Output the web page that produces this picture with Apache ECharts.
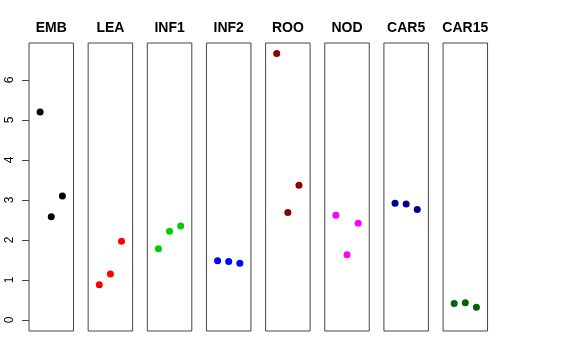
<!DOCTYPE html>
<html><head><meta charset="utf-8">
<script src="https://cdn.jsdelivr.net/npm/echarts@6/dist/echarts.min.js"></script>
<style>html,body{margin:0;padding:0;background:#fff}#c{width:576px;height:360px}</style>
</head><body><div id="c"></div>
<script>
const categories = ["EMB","LEA","INF1","INF2","ROO","NOD","CAR5","CAR15"];
const colors = ["#000000","#FF0000","#00CD00","#0000FF","#8B0000","#FF00FF","#00008B","#006400"];
const xPositions = [1, 2, 3];
const EMB = [5.2, 2.58, 3.1];
const LEA = [0.88, 1.15, 1.97];
const INF1 = [1.78, 2.22, 2.35];
const INF2 = [1.48, 1.46, 1.42];
const ROO = [6.66, 2.69, 3.37];
const NOD = [2.62, 1.63, 2.42];
const CAR5 = [2.92, 2.9, 2.76];
const CAR15 = [0.41, 0.43, 0.32];
const yTicks = [0, 1, 2, 3, 4, 5, 6];
const seriesValues = [EMB, LEA, INF1, INF2, ROO, NOD, CAR5, CAR15];

const panelLeft0 = 29, panelStep = 59.15, panelW = 44.5, panelTop = 43, panelH = 288;
const yMin = -0.275, yMax = 6.925;
const font = "'Liberation Sans', Arial, Helvetica, sans-serif";

const grid = [], xAxis = [], yAxis = [], series = [], title = [];
categories.forEach((name, i) => {
  const left = panelLeft0 + i * panelStep;
  grid.push({left: left, top: panelTop, width: panelW, height: panelH, show: true,
    borderColor: '#444', borderWidth: 1, backgroundColor: 'transparent', containLabel: false});
  xAxis.push({type: 'value', gridIndex: i, min: 0, max: 4, show: false});
  yAxis.push({type: 'value', gridIndex: i, min: yMin, max: yMax, show: i === 0,
    axisLine: {show: false}, splitLine: {show: false},
    axisTick: {show: true, length: 7, lineStyle: {color: '#444'}, customValues: yTicks},
    axisLabel: {show: true, rotate: 90, margin: 13, fontSize: 12, color: '#000', fontFamily: font,
      customValues: yTicks, formatter: v => String(v)}});
  series.push({type: 'scatter', xAxisIndex: i, yAxisIndex: i, symbol: 'circle', symbolSize: 7,
    itemStyle: {color: colors[i], opacity: 1},
    data: seriesValues[i].map((v, j) => [xPositions[j], v]), animation: false});
  title.push({text: name, left: left + panelW / 2, textAlign: 'center', top: 21, padding: 0,
    textStyle: {fontSize: 14, fontWeight: 'bold', color: '#000', fontFamily: font}});
});

const chart = echarts.init(document.getElementById('c'), null, {renderer: 'canvas'});
chart.setOption({animation: false, title, grid, xAxis, yAxis, series});
</script></body></html>
